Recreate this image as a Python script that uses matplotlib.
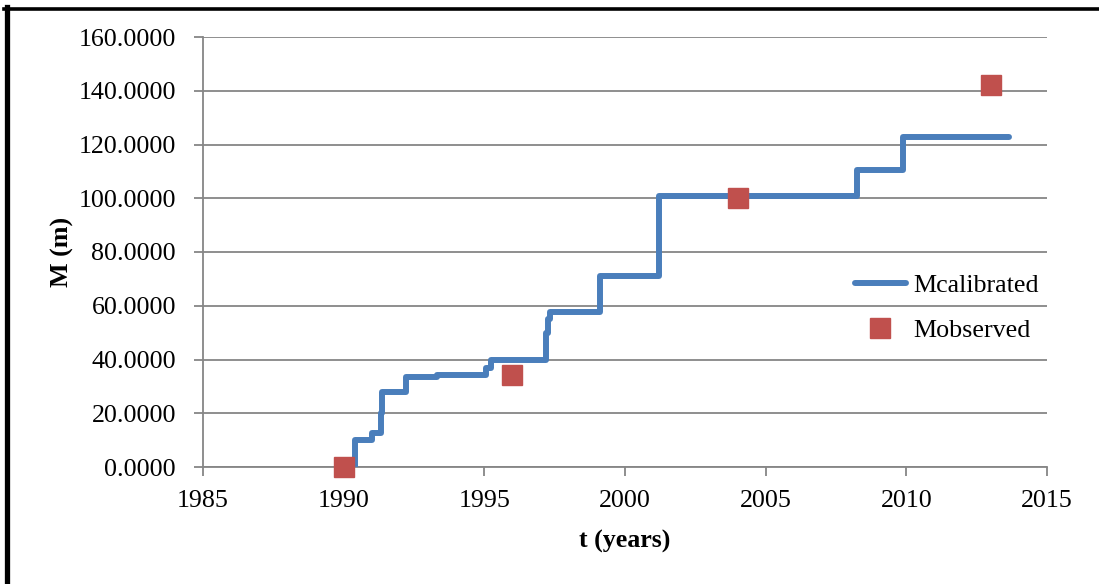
import matplotlib
matplotlib.use("Agg")
from matplotlib import pyplot as plt
from matplotlib import ticker
from matplotlib.lines import Line2D


FIGSIZE = (1099, 584)
DPI = 100

LINE_COLOR = "#4a7ebb"
MARK_COLOR = "#c0504d"
GRID_COLOR = "#868686"

# calibrated curve: step start times and levels
t_calibrated = [1990.37, 1990.42, 1991.0, 1991.32, 1991.36, 1992.2, 1993.3,
                1995.07, 1995.25, 1997.2, 1997.26, 1997.32, 1999.1, 2001.2,
                2008.25, 2009.88, 2013.65]
m_calibrated = [0.0, 10.0, 12.7, 20.0, 28.0, 33.6, 34.2,
                36.8, 40.0, 50.0, 55.0, 57.8, 71.2, 101.0,
                110.4, 122.8, 122.8]

# observed values
t_observed = [1990, 1996, 2004, 2013]
m_observed = [0.0, 34.4, 100.0, 142.3]

plt.rcParams["font.family"] = ["Liberation Serif", "DejaVu Serif"]
plt.rcParams["font.size"] = 18.7

fig = plt.figure(figsize=(FIGSIZE[0]/DPI, FIGSIZE[1]/DPI), dpi=DPI)
ax = fig.add_axes([203/1099, 1 - 467/584, (1047-203)/1099, (467-37)/584])

ax.plot(t_calibrated, m_calibrated, drawstyle="steps-post", color=LINE_COLOR,
        lw=4.3, solid_capstyle="round", solid_joinstyle="round",
        label="Mcalibrated", zorder=3)
ax.plot(t_observed, m_observed, "s", color=MARK_COLOR, markersize=14,
        label="Mobserved", zorder=4, clip_on=False)

ax.set_xlim(1985, 2015)
ax.set_ylim(0, 160)
ax.xaxis.set_major_locator(ticker.MultipleLocator(5))
ax.yaxis.set_major_locator(ticker.MultipleLocator(20))
ax.yaxis.set_major_formatter(ticker.FormatStrFormatter("%.4f"))

ax.grid(axis="y", color=GRID_COLOR, lw=1.3)
ax.set_axisbelow(True)
for side in ("top", "right"):
    ax.spines[side].set_visible(False)
for side in ("left", "bottom"):
    ax.spines[side].set_color(GRID_COLOR)
    ax.spines[side].set_linewidth(1.3)
ax.tick_params(axis="both", direction="out", length=6.5, width=1.3,
               color=GRID_COLOR)
ax.tick_params(axis="y", pad=13)
ax.tick_params(axis="x", pad=10)

ax.set_xlabel("t (years)", fontweight="bold", labelpad=13)
ax.set_ylabel("M (m)", fontweight="bold", labelpad=3)

ax.legend(loc="upper left", bbox_to_anchor=(855/1099, 1 - 274/584),
          bbox_transform=fig.transFigure, frameon=False,
          handlelength=1.95, handletextpad=0.3, labelspacing=0.85,
          borderaxespad=0, borderpad=0)

# black frame remnants at left and top edges
fig.add_artist(Line2D([6.5/1099, 6.5/1099], [0, 1 - 7/584],
                      transform=fig.transFigure, color="black", lw=3.8))
fig.add_artist(Line2D([4/1099, 1], [1 - 8.5/584, 1 - 8.5/584],
                      transform=fig.transFigure, color="black", lw=2.6))

fig.savefig("out.png", dpi=DPI)
